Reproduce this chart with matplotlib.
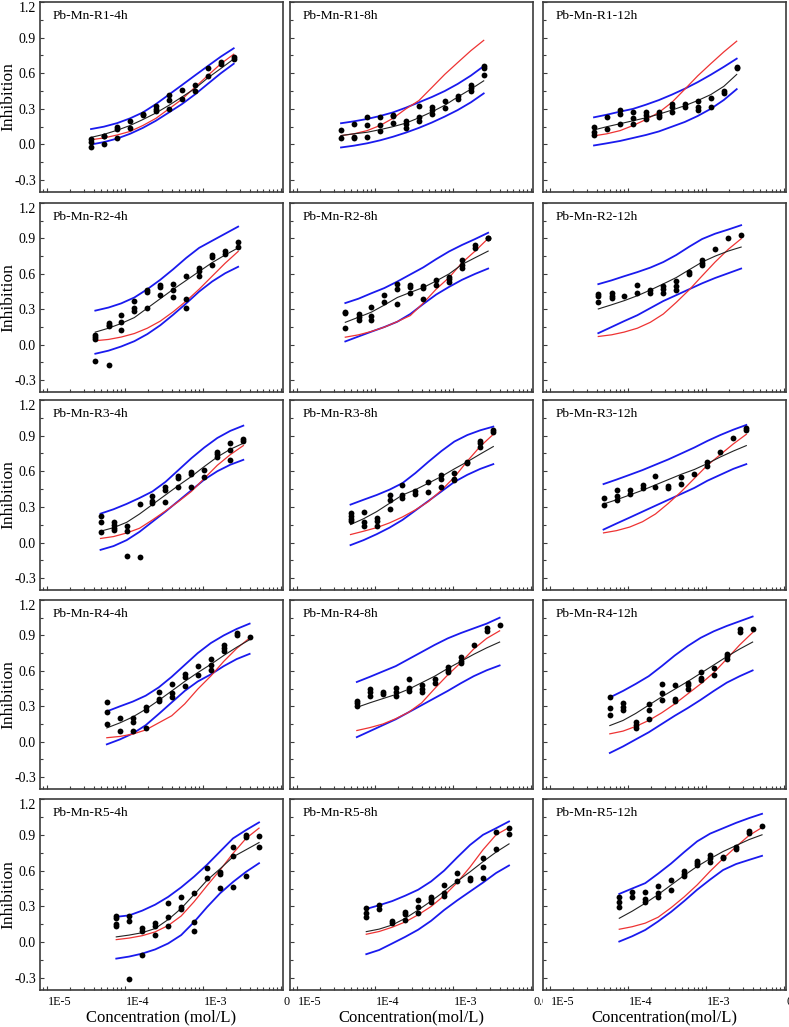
import matplotlib
matplotlib.use("Agg")
import matplotlib.pyplot as plt
import matplotlib.transforms as mtransforms
from matplotlib.ticker import FixedLocator, LogLocator, NullFormatter, MultipleLocator

plt.rcParams['font.family'] = ['Liberation Serif', 'DejaVu Serif']
plt.rcParams['axes.unicode_minus'] = False

# ---------------- concentrations (mol/L) per row ----------------
conc_R1 = [3.7e-5, 5.4e-5, 8.0e-5, 1.17e-4, 1.71e-4, 2.51e-4, 3.69e-4, 5.41e-4, 7.9e-4, 1.16e-3, 1.71e-3, 2.5e-3]
conc_R2 = [4.2e-5, 6.2e-5, 9.0e-5, 1.33e-4, 1.95e-4, 2.86e-4, 4.2e-4, 6.15e-4, 9.0e-4, 1.32e-3, 1.94e-3, 2.85e-3]
conc_R3 = [4.9e-5, 7.2e-5, 1.06e-4, 1.55e-4, 2.27e-4, 3.33e-4, 4.89e-4, 7.17e-4, 1.05e-3, 1.54e-3, 2.26e-3, 3.32e-3]
conc_R4 = [5.9e-5, 8.7e-5, 1.27e-4, 1.86e-4, 2.73e-4, 4.01e-4, 5.88e-4, 8.63e-4, 1.27e-3, 1.86e-3, 2.73e-3, 4.0e-3]
conc_R5 = [7.8e-5, 1.14e-4, 1.68e-4, 2.46e-4, 3.61e-4, 5.3e-4, 7.77e-4, 1.14e-3, 1.67e-3, 2.45e-3, 3.6e-3, 5.28e-3]

# ---------------- R1 ----------------
dots_R1_4h = [[0.05, 0.02, -0.02], [0.07, 0.07, 0.0], [0.15, 0.13, 0.055], [0.2, 0.137], [0.257, 0.246],
              [0.327, 0.30, 0.285], [0.416, 0.374, 0.30], [0.458, 0.38], [0.503, 0.452], [0.648, 0.573],
              [0.695, 0.676], [0.737, 0.718]]
fit_R1_4h = [0.06, 0.085, 0.12, 0.16, 0.21, 0.265, 0.33, 0.40, 0.47, 0.56, 0.64, 0.72]
red_R1_4h = [0.04, 0.055, 0.08, 0.11, 0.16, 0.22, 0.30, 0.38, 0.48, 0.58, 0.68, 0.76]
up_R1_4h = [0.13, 0.15, 0.18, 0.22, 0.27, 0.34, 0.42, 0.50, 0.58, 0.66, 0.74, 0.81]
lo_R1_4h = [0.0, 0.02, 0.05, 0.09, 0.14, 0.20, 0.27, 0.34, 0.42, 0.51, 0.60, 0.68]

dots_R1_8h = [[0.123, 0.053], [0.173, 0.067, 0.056], [0.232, 0.168, 0.064], [0.232, 0.165, 0.117],
              [0.251, 0.240, 0.184], [0.196, 0.173, 0.137], [0.321, 0.235, 0.201], [0.318, 0.29, 0.257],
              [0.369, 0.304], [0.405, 0.385], [0.497, 0.475, 0.447], [0.665, 0.648, 0.587]]
fit_R1_8h = [0.075, 0.09, 0.103, 0.125, 0.15, 0.18, 0.225, 0.275, 0.33, 0.40, 0.466, 0.536]
red_R1_8h = [0.075, 0.09, 0.117, 0.16, 0.22, 0.30, 0.37, 0.48, 0.59, 0.69, 0.79, 0.877]
up_R1_8h = [0.179, 0.195, 0.215, 0.24, 0.27, 0.31, 0.355, 0.40, 0.45, 0.51, 0.58, 0.66]
lo_R1_8h = [-0.025, -0.01, 0.01, 0.035, 0.065, 0.10, 0.14, 0.185, 0.235, 0.29, 0.355, 0.43]

dots_R1_12h = [[0.151, 0.109, 0.081], [0.229, 0.131], [0.29, 0.257, 0.173], [0.271, 0.223, 0.173],
               [0.277, 0.251, 0.215], [0.271, 0.249, 0.235], [0.341, 0.318, 0.271], [0.341, 0.313],
               [0.363, 0.318, 0.293], [0.388, 0.318], [0.453, 0.436], [0.654, 0.64]]
fit_R1_12h = [0.123, 0.15, 0.175, 0.2, 0.225, 0.255, 0.29, 0.327, 0.37, 0.42, 0.49, 0.59]
red_R1_12h = [0.073, 0.09, 0.117, 0.16, 0.21, 0.27, 0.355, 0.466, 0.578, 0.68, 0.78, 0.87]
up_R1_12h = [0.229, 0.251, 0.277, 0.30, 0.335, 0.374, 0.42, 0.47, 0.525, 0.587, 0.654, 0.723]
lo_R1_12h = [-0.008, 0.01, 0.03, 0.055, 0.08, 0.11, 0.15, 0.19, 0.24, 0.30, 0.375, 0.466]

# ---------------- R2 ----------------
dots_R2_4h = [[0.084, 0.064, 0.048, -0.135], [0.185, 0.171, 0.157, -0.168], [0.252, 0.19, 0.126],
              [0.367, 0.308, 0.283], [0.463, 0.443, 0.308], [0.505, 0.49, 0.423], [0.513, 0.465, 0.407],
              [0.578, 0.387, 0.308], [0.648, 0.625, 0.58], [0.76, 0.746, 0.676], [0.793, 0.771],
              [0.872, 0.83]]
fit_R2_4h = [0.107, 0.14, 0.18, 0.23, 0.31, 0.39, 0.47, 0.545, 0.62, 0.695, 0.76, 0.82]
red_R2_4h = [0.034, 0.045, 0.065, 0.095, 0.14, 0.20, 0.28, 0.37, 0.47, 0.58, 0.69, 0.79]
up_R2_4h = [0.289, 0.315, 0.35, 0.40, 0.47, 0.55, 0.64, 0.735, 0.82, 0.88, 0.94, 1.0]
lo_R2_4h = [-0.076, -0.05, -0.015, 0.03, 0.09, 0.165, 0.255, 0.35, 0.45, 0.535, 0.605, 0.66]

dots_R2_8h = [[0.28, 0.269, 0.143], [0.258, 0.233, 0.21], [0.317, 0.241, 0.213], [0.423, 0.359],
              [0.513, 0.471, 0.345], [0.505, 0.49, 0.435], [0.499, 0.482, 0.387], [0.55, 0.505],
              [0.575, 0.555, 0.533], [0.715, 0.676, 0.648], [0.841, 0.821], [0.905, 0.9]]
fit_R2_8h = [0.19, 0.233, 0.275, 0.336, 0.40, 0.443, 0.485, 0.54, 0.60, 0.68, 0.737, 0.793]
red_R2_8h = [0.064, 0.084, 0.112, 0.149, 0.196, 0.247, 0.353, 0.471, 0.569, 0.695, 0.793, 0.90]
up_R2_8h = [0.353, 0.39, 0.435, 0.48, 0.535, 0.595, 0.655, 0.725, 0.79, 0.845, 0.895, 0.948]
lo_R2_8h = [0.028, 0.07, 0.11, 0.15, 0.195, 0.26, 0.345, 0.425, 0.49, 0.55, 0.60, 0.645]

dots_R2_12h = [[0.429, 0.409, 0.359], [0.435, 0.415, 0.398], [0.412], [0.507, 0.435], [0.463, 0.435],
               [0.499, 0.471, 0.435], [0.541, 0.499, 0.463], [0.617, 0.597], [0.715, 0.695, 0.676],
               [0.807], [0.9], [0.925]]
fit_R2_12h = [0.303, 0.338, 0.373, 0.415, 0.463, 0.515, 0.569, 0.635, 0.70, 0.75, 0.793, 0.827]
red_R2_12h = [0.07, 0.084, 0.107, 0.14, 0.19, 0.26, 0.359, 0.465, 0.583, 0.70, 0.807, 0.897]
up_R2_12h = [0.513, 0.545, 0.58, 0.615, 0.653, 0.70, 0.76, 0.83, 0.895, 0.94, 0.975, 1.012]
lo_R2_12h = [0.098, 0.15, 0.2, 0.25, 0.31, 0.37, 0.42, 0.47, 0.52, 0.565, 0.605, 0.645]

# ---------------- R3 ----------------
dots_R3_4h = [[0.226, 0.173, 0.089], [0.17, 0.145, 0.123, 0.103], [0.143, 0.095, -0.115], [0.324, -0.12],
              [0.394, 0.352, 0.333], [0.464, 0.445, 0.341], [0.562, 0.542, 0.464], [0.593, 0.579, 0.464],
              [0.612, 0.551], [0.766, 0.746, 0.718], [0.836, 0.78, 0.696], [0.869, 0.858]]
fit_R3_4h = [0.095, 0.125, 0.17, 0.24, 0.32, 0.40, 0.48, 0.556, 0.64, 0.72, 0.785, 0.836]
red_R3_4h = [0.034, 0.05, 0.08, 0.12, 0.19, 0.265, 0.345, 0.43, 0.54, 0.65, 0.74, 0.816]
up_R3_4h = [0.243, 0.28, 0.325, 0.375, 0.43, 0.51, 0.61, 0.71, 0.80, 0.88, 0.94, 0.984]
lo_R3_4h = [-0.062, -0.03, 0.02, 0.09, 0.175, 0.26, 0.35, 0.44, 0.53, 0.60, 0.655, 0.696]

dots_R3_8h = [[0.249, 0.226, 0.198, 0.179], [0.257, 0.171, 0.143], [0.207, 0.179, 0.143],
              [0.403, 0.355, 0.282], [0.486, 0.403, 0.375], [0.43, 0.411], [0.509, 0.422],
              [0.565, 0.537, 0.464], [0.584, 0.534, 0.523], [0.682, 0.668], [0.855, 0.836, 0.802],
              [0.948, 0.934]]
fit_R3_8h = [0.151, 0.20, 0.26, 0.33, 0.40, 0.445, 0.50, 0.556, 0.62, 0.68, 0.745, 0.808]
red_R3_8h = [0.067, 0.095, 0.125, 0.165, 0.215, 0.275, 0.345, 0.44, 0.55, 0.685, 0.81, 0.911]
up_R3_8h = [0.319, 0.36, 0.40, 0.445, 0.50, 0.585, 0.68, 0.77, 0.85, 0.905, 0.945, 0.976]
lo_R3_8h = [-0.022, 0.02, 0.07, 0.125, 0.19, 0.27, 0.35, 0.43, 0.51, 0.57, 0.62, 0.66]

dots_R3_12h = [[0.375, 0.313], [0.439, 0.389, 0.361], [0.445, 0.411], [0.486, 0.458], [0.562, 0.464],
               [0.478, 0.458], [0.548, 0.492], [0.579], [0.677, 0.646], [0.766], [0.883], [0.967, 0.948]]
fit_R3_12h = [0.324, 0.36, 0.40, 0.44, 0.485, 0.53, 0.575, 0.615, 0.665, 0.72, 0.77, 0.816]
red_R3_12h = [0.081, 0.1, 0.13, 0.175, 0.24, 0.33, 0.43, 0.54, 0.65, 0.74, 0.83, 0.911]
up_R3_12h = [0.492, 0.53, 0.57, 0.61, 0.655, 0.70, 0.75, 0.80, 0.855, 0.905, 0.95, 0.99]
lo_R3_12h = [0.109, 0.16, 0.21, 0.26, 0.31, 0.36, 0.41, 0.46, 0.52, 0.57, 0.62, 0.66]

# ---------------- R4 ----------------
dots_R4_4h = [[0.338, 0.249, 0.151], [0.198, 0.089], [0.198, 0.171, 0.089], [0.291, 0.268, 0.115],
              [0.417, 0.366, 0.347], [0.486, 0.411, 0.375], [0.57, 0.548, 0.472], [0.64, 0.562],
              [0.702, 0.649, 0.607], [0.822, 0.794, 0.772], [0.92, 0.9], [0.883]]
fit_R4_4h = [0.117, 0.16, 0.21, 0.275, 0.35, 0.43, 0.51, 0.585, 0.655, 0.73, 0.80, 0.864]
red_R4_4h = [0.034, 0.045, 0.065, 0.10, 0.16, 0.22, 0.32, 0.445, 0.556, 0.68, 0.79, 0.878]
up_R4_4h = [0.257, 0.30, 0.34, 0.39, 0.46, 0.55, 0.65, 0.75, 0.835, 0.90, 0.955, 1.0]
lo_R4_4h = [-0.022, 0.02, 0.07, 0.14, 0.235, 0.333, 0.43, 0.51, 0.57, 0.64, 0.70, 0.744]

dots_R4_8h = [[0.347, 0.327, 0.305], [0.445, 0.422, 0.389], [0.422, 0.403], [0.458, 0.417, 0.389],
              [0.534, 0.458, 0.43], [0.478, 0.45, 0.425], [0.528, 0.5], [0.632, 0.604, 0.593],
              [0.716, 0.682, 0.663], [0.822], [0.962, 0.934], [0.99]]
fit_R4_8h = [0.291, 0.33, 0.365, 0.40, 0.445, 0.50, 0.555, 0.62, 0.68, 0.74, 0.795, 0.844]
red_R4_8h = [0.095, 0.12, 0.15, 0.195, 0.25, 0.33, 0.45, 0.565, 0.67, 0.785, 0.875, 0.939]
up_R4_8h = [0.506, 0.55, 0.595, 0.64, 0.70, 0.76, 0.82, 0.875, 0.92, 0.96, 1.0, 1.05]
lo_R4_8h = [0.039, 0.09, 0.14, 0.19, 0.25, 0.31, 0.37, 0.43, 0.495, 0.555, 0.605, 0.646]

dots_R4_12h = [[0.375, 0.282, 0.229], [0.324, 0.291, 0.268], [0.171, 0.143, 0.115], [0.319, 0.268, 0.193],
               [0.486, 0.411, 0.352], [0.478, 0.361, 0.347], [0.5, 0.481, 0.445], [0.593, 0.542, 0.52],
               [0.621, 0.562], [0.744, 0.724, 0.702], [0.953, 0.928], [0.956]]
fit_R4_12h = [0.137, 0.18, 0.24, 0.31, 0.38, 0.445, 0.51, 0.58, 0.65, 0.72, 0.785, 0.844]
red_R4_12h = [0.067, 0.09, 0.13, 0.18, 0.245, 0.32, 0.405, 0.49, 0.585, 0.70, 0.82, 0.925]
up_R4_12h = [0.375, 0.43, 0.49, 0.555, 0.64, 0.73, 0.81, 0.88, 0.935, 0.98, 1.02, 1.06]
lo_R4_12h = [-0.095, -0.04, 0.02, 0.08, 0.15, 0.22, 0.285, 0.355, 0.43, 0.5, 0.555, 0.604]

# ---------------- R5 ----------------
dots_R5_4h = [[0.219, 0.199, 0.157, 0.137], [0.219, 0.179, -0.311], [0.121, 0.093, -0.104],
              [0.165, 0.135, 0.059], [0.331, 0.213, 0.137], [0.376, 0.297, 0.278], [0.409, 0.171, 0.093],
              [0.62, 0.535], [0.592, 0.572, 0.457], [0.802, 0.723, 0.46], [0.9, 0.88, 0.555], [0.891, 0.802]]
fit_R5_4h = [0.045, 0.06, 0.08, 0.115, 0.19, 0.283, 0.40, 0.52, 0.615, 0.715, 0.775, 0.835]
red_R5_4h = [0.022, 0.035, 0.055, 0.087, 0.14, 0.22, 0.34, 0.475, 0.605, 0.745, 0.87, 0.956]
up_R5_4h = [0.213, 0.225, 0.265, 0.315, 0.38, 0.46, 0.55, 0.65, 0.76, 0.87, 0.94, 1.004]
lo_R5_4h = [-0.137, -0.12, -0.095, -0.06, -0.01, 0.06, 0.17, 0.295, 0.41, 0.505, 0.59, 0.662]

dots_R5_8h = [[0.285, 0.243, 0.215], [0.313, 0.277], [0.179, 0.159], [0.257, 0.235, 0.187],
              [0.355, 0.299, 0.243], [0.383, 0.363, 0.341], [0.481, 0.411, 0.391], [0.579, 0.509],
              [0.537, 0.523], [0.704, 0.634, 0.542], [0.922, 0.783], [0.956, 0.906]]
fit_R5_8h = [0.089, 0.11, 0.145, 0.2, 0.27, 0.345, 0.425, 0.51, 0.59, 0.675, 0.755, 0.824]
red_R5_8h = [0.067, 0.09, 0.126, 0.17, 0.23, 0.30, 0.39, 0.50, 0.63, 0.775, 0.90, 0.961]
up_R5_8h = [0.279, 0.31, 0.345, 0.39, 0.44, 0.51, 0.60, 0.71, 0.815, 0.90, 0.955, 1.012]
lo_R5_8h = [-0.1, -0.065, -0.01, 0.045, 0.105, 0.18, 0.27, 0.35, 0.425, 0.50, 0.58, 0.643]

dots_R5_12h = [[0.375, 0.341, 0.299], [0.425, 0.375], [0.419, 0.363, 0.341], [0.472, 0.416, 0.383],
               [0.523, 0.439], [0.593, 0.57, 0.556], [0.682, 0.662, 0.648], [0.732, 0.704, 0.676],
               [0.718, 0.704], [0.802, 0.783], [0.933, 0.914], [0.975]]
fit_R5_12h = [0.201, 0.26, 0.327, 0.40, 0.48, 0.56, 0.635, 0.70, 0.76, 0.81, 0.86, 0.90]
red_R5_12h = [0.109, 0.13, 0.16, 0.21, 0.29, 0.38, 0.48, 0.595, 0.70, 0.80, 0.895, 0.961]
up_R5_12h = [0.405, 0.45, 0.495, 0.575, 0.66, 0.755, 0.845, 0.91, 0.955, 1.0, 1.04, 1.076]
lo_R5_12h = [0.006, 0.05, 0.103, 0.175, 0.255, 0.345, 0.44, 0.525, 0.605, 0.655, 0.69, 0.724]

# ---------------- axis ticks ----------------
ytick_vals = [-0.3, 0.0, 0.3, 0.6, 0.9, 1.2]
ytick_text = ["-0.3", "0.0", "0.3", "0.6", "0.9", "1.2"]
xtick_vals = [1e-5, 1e-4, 1e-3, 1e-2]
xtick_text = ["1E-5", "1E-4", "1E-3", "0.01"]

rows = ["R1", "R2", "R3", "R4", "R5"]
times = ["4h", "8h", "12h"]
concs = {"R1": conc_R1, "R2": conc_R2, "R3": conc_R3, "R4": conc_R4, "R5": conc_R5}
g = globals()

# ---------------- layout (pixels) ----------------
W, H = 789, 1027
col_left = [40, 290, 543]
col_w = 243
row_tb = [(2, 192), (203, 392), (400, 590), (600, 789), (799, 990)]

fig = plt.figure(figsize=(W / 100, H / 100), dpi=100)
frame_col = '#3c3c3c'
offset_x = mtransforms.ScaledTranslation(13 / 100, 0, fig.dpi_scale_trans)

for ri, r in enumerate(rows):
    top, bot = row_tb[ri]
    for ci, t in enumerate(times):
        key = f"{r}_{t}"
        ax = fig.add_axes([col_left[ci] / W, 1 - bot / H, col_w / W, (bot - top) / H])
        conc = concs[r]
        ax.plot(conc, g["up_" + key], color='#1a1aee', lw=1.3, zorder=2)
        ax.plot(conc, g["lo_" + key], color='#1a1aee', lw=1.3, zorder=2)
        ax.plot(conc, g["red_" + key], color='#ee3333', lw=0.9, zorder=3)
        ax.plot(conc, g["fit_" + key], color='#222222', lw=0.8, zorder=4)
        xs, ys = [], []
        for c, reps in zip(conc, g["dots_" + key]):
            for v in reps:
                xs.append(c)
                ys.append(v)
        ax.plot(xs, ys, 'o', color='black', ms=4.2, mew=0, zorder=5)

        ax.set_xscale('log')
        ax.set_xlim(10 ** -5.086, 10 ** -1.97)
        ax.set_ylim(-0.4, 1.2)
        ax.xaxis.set_major_locator(FixedLocator(xtick_vals))
        ax.xaxis.set_minor_locator(LogLocator(base=10, subs=[2, 3, 4, 5, 6, 7, 8, 9], numticks=20))
        ax.xaxis.set_minor_formatter(NullFormatter())
        ax.set_yticks(ytick_vals)
        ax.yaxis.set_minor_locator(MultipleLocator(0.15))
        ax.tick_params(which='both', direction='in', top=False, right=False, color=frame_col, width=0.8)
        ax.tick_params(which='major', length=3.2)
        ax.tick_params(which='minor', length=2.0)
        ax.tick_params(axis='y', labelsize=10, pad=3)
        ax.tick_params(axis='x', labelsize=8.7, pad=4)
        for sp in ax.spines.values():
            sp.set_color(frame_col)
            sp.set_linewidth(1.2)

        if ci == 0:
            ax.set_yticklabels(ytick_text)
            ax.get_yticklabels()[-1].set_va('top')
            ax.set_ylabel("Inhibition", fontsize=12.5, labelpad=2)
            ax.yaxis.set_label_coords(-0.097, 0.5)
        else:
            ax.set_yticklabels([])
        if ri == len(rows) - 1:
            ax.set_xticklabels(xtick_text)
            # clip the right-most label at the start of the next panel (as in the original layout)
            clip_right = col_left[ci + 1] if ci < 2 else W
            clip_bb = mtransforms.TransformedBbox(
                mtransforms.Bbox([[0, 0], [clip_right / W, 1]]), fig.transFigure)
            for lab in ax.get_xticklabels():
                lab.set_transform(lab.get_transform() + offset_x)
                lab.set_clip_box(clip_bb)
                lab.set_clip_on(True)
            xl = "Concentration (mol/L)" if ci == 0 else "Concentration(mol/L)"
            ax.set_xlabel(xl, fontsize=12, labelpad=1)
        else:
            ax.set_xticklabels([])

        ax.text(0.05, 0.925, f"Pb-Mn-{r}-{t}", transform=ax.transAxes, fontsize=9.7,
                ha='left', va='center')

fig.savefig("out.png", dpi=100)
